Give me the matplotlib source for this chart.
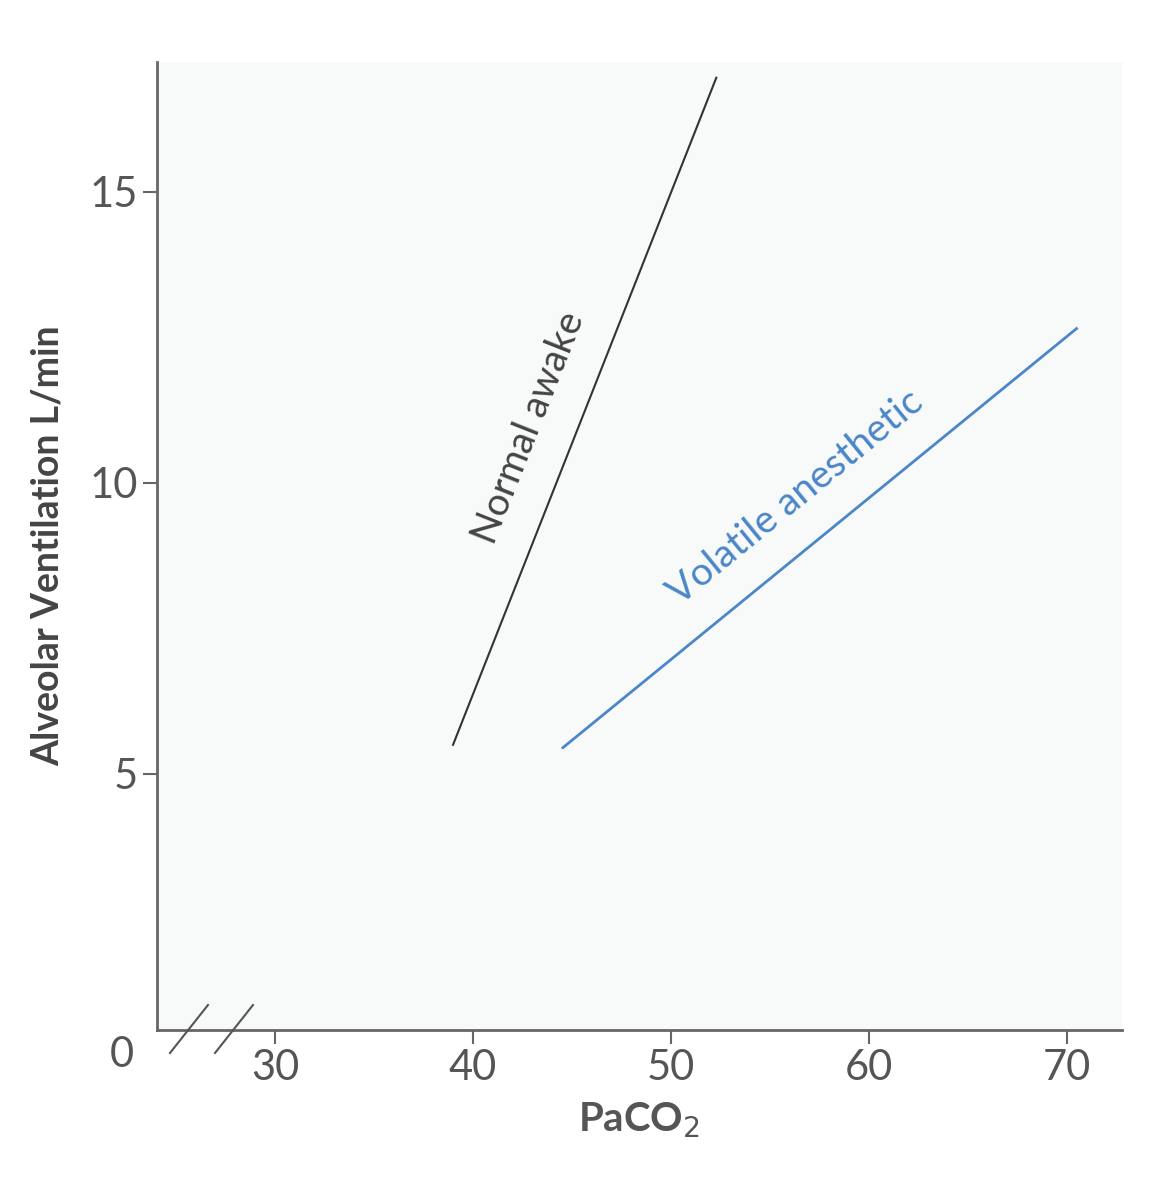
import matplotlib
matplotlib.use("Agg")
import matplotlib.pyplot as plt
from matplotlib.lines import Line2D

plt.rcParams['font.family'] = ['Lato', 'DejaVu Sans']

normal_x = [39.0, 52.3]
normal_y = [5.5, 16.96]
volatile_x = [44.55, 70.5]
volatile_y = [5.45, 12.65]
xticks = [30, 40, 50, 60, 70]
yticks = [5, 10, 15]

fig = plt.figure(figsize=(11.66, 12), dpi=100)
ax = fig.add_axes([0.1346, 0.1417, 0.8277, 0.8066])
ax.set_facecolor('#f8f9f9')
ax.set_xlim(24.04, 72.8)
ax.set_ylim(0.6, 17.23)
ax.plot(normal_x, normal_y, color='#333333', lw=1.5)
ax.plot(volatile_x, volatile_y, color='#4a86c8', lw=2)
ax.text(42.85, 10.95, 'Normal awake', rotation=68.4, ha='center', va='center',
        fontsize=28, color='#444444', rotation_mode='anchor')
ax.text(56.3, 9.75, 'Volatile anesthetic', rotation=39.2, ha='center', va='center',
        fontsize=28, color='#4a86c8', rotation_mode='anchor')
for s in ['top', 'right']:
    ax.spines[s].set_visible(False)
for s in ['left', 'bottom']:
    ax.spines[s].set_color('#666666')
    ax.spines[s].set_linewidth(2)
ax.set_xticks(xticks)
ax.set_yticks(yticks)
ax.tick_params(colors='#666666', labelcolor='#555555', labelsize=30, length=10, width=1.5)
ax.set_xlabel('PaCO$_2$', fontsize=29, fontweight='bold', color='#555555', labelpad=10)
ax.set_ylabel('Alveolar Ventilation L/min', fontsize=27, fontweight='bold', color='#444444', labelpad=18)
fig.text(122/1166, 1-1055/1200, '0', fontsize=30, color='#555555', ha='center', va='center')
for x0 in [170, 215]:
    fig.add_artist(Line2D([x0/1166, (x0+38)/1166], [1-1053/1200, 1-1005/1200],
                          color='#555555', lw=1.5))
fig.savefig('out.png', dpi=100)
